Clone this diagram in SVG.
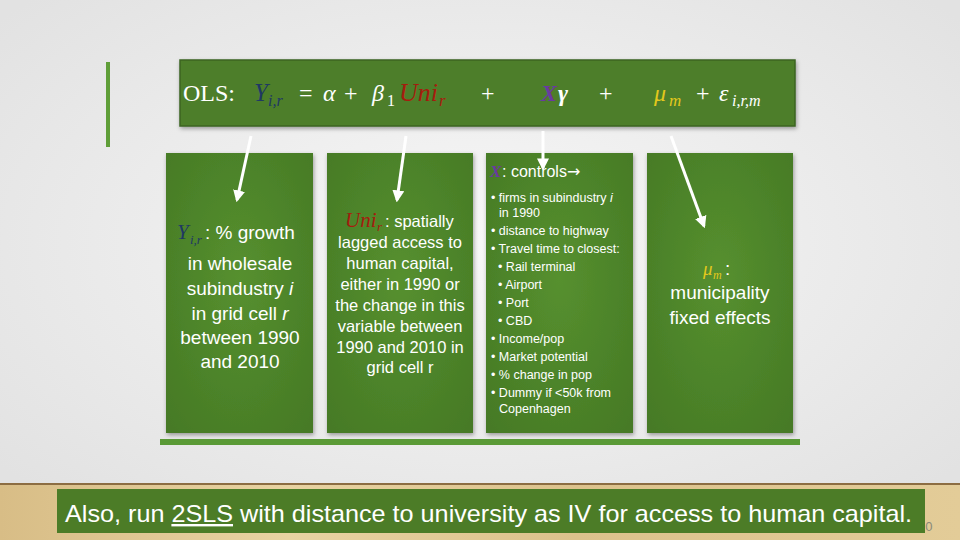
<svg xmlns="http://www.w3.org/2000/svg" width="960" height="540" viewBox="0 0 960 540">
<defs>
<radialGradient id="bg" cx="50%" cy="45%" r="65%">
<stop offset="0" stop-color="#f7f7f7"/>
<stop offset="1" stop-color="#e2e2e2"/>
</radialGradient>
<linearGradient id="wood" x1="0" y1="0" x2="1" y2="0">
<stop offset="0" stop-color="#d8bd86"/>
<stop offset="0.3" stop-color="#e8d3a2"/>
<stop offset="0.6" stop-color="#dcc28c"/>
<stop offset="1" stop-color="#e3cc98"/>
</linearGradient>
<radialGradient id="pan" cx="50%" cy="45%" r="70%">
<stop offset="0" stop-color="#56902f"/>
<stop offset="1" stop-color="#467a25"/>
</radialGradient>
<filter id="sh" x="-10%" y="-10%" width="125%" height="125%">
<feDropShadow dx="1" dy="2" stdDeviation="2" flood-color="#000" flood-opacity="0.35"/>
</filter>
<marker id="ah" viewBox="0 0 10 10" refX="8" refY="5" markerWidth="4" markerHeight="4" orient="auto" markerUnits="strokeWidth">
<path d="M0,0 L10,5 L0,10 z" fill="#ffffff"/>
</marker>
<style>
.panel{fill:url(#pan);filter:url(#sh);}
.t{font-family:"Liberation Sans","DejaVu Sans",sans-serif;fill:#ffffff;}
.s{font-family:"Liberation Serif","DejaVu Serif",serif;fill:#ffffff;}
.it{font-style:italic;}
.arr{stroke:#ffffff;stroke-width:3;fill:none;marker-end:url(#ah);}
</style>
</defs>
<rect x="0" y="0" width="960" height="540" fill="url(#bg)"/>
<rect x="0" y="484" width="960" height="56" fill="url(#wood)"/>
<rect x="0" y="483" width="960" height="2" fill="#8c6d42"/>
<rect x="106" y="62" width="4" height="85" fill="#5f9e38"/>

<g id="equation">
<rect x="180" y="60" width="615" height="66" fill="#4d7e2b" stroke="#3b6420" stroke-width="1.5" filter="url(#sh)"/>
<text class="s" x="183" y="101" font-size="24">OLS:</text>
<text class="s it" x="254" y="101" font-size="25" style="fill:#1f3864">Y</text>
<text class="s it" x="268" y="106" font-size="16" style="fill:#1f3864">i,r</text>
<text class="s" x="299" y="101" font-size="24">=</text>
<text class="s it" x="323" y="101" font-size="24">α</text>
<text class="s" x="344" y="101" font-size="24">+</text>
<text class="s it" x="372" y="101" font-size="24">β</text>
<text class="s" x="387" y="106" font-size="16">1</text>
<text class="s it" x="399" y="101" font-size="26" style="fill:#a51c0e">Uni</text>
<text class="s it" x="439" y="106" font-size="17" style="fill:#a51c0e">r</text>
<text class="s" x="481" y="101" font-size="24">+</text>
<text class="s it" x="541" y="101" font-size="24" font-weight="bold" style="fill:#6a3aa0">X</text>
<text class="s it" x="558" y="101" font-size="24" font-weight="bold">γ</text>
<text class="s" x="599" y="101" font-size="24">+</text>
<text class="s it" x="654" y="101" font-size="24" style="fill:#e3c81c">μ</text>
<text class="s it" x="669" y="106" font-size="17" style="fill:#e3c81c">m</text>
<text class="s" x="696" y="101" font-size="24">+</text>
<text class="s it" x="719" y="101" font-size="24">ε</text>
<text class="s it" x="732" y="106" font-size="16">i,r,m</text>
</g>

<g id="panel-y">
<rect class="panel" x="166" y="153" width="147" height="280"/>
<text class="s it" x="177" y="239" font-size="21" style="fill:#1f3864">Y</text>
<text class="s it" x="190" y="244" font-size="13" style="fill:#1f3864">i,r</text>
<text class="t" x="205" y="239" font-size="19">: % growth</text>
<text class="t" x="240" y="270" font-size="19" text-anchor="middle">in wholesale</text>
<text class="t" x="240" y="295" font-size="19" text-anchor="middle">subindustry <tspan font-style="italic">i</tspan></text>
<text class="t" x="240" y="320" font-size="19" text-anchor="middle">in grid cell <tspan font-style="italic">r</tspan></text>
<text class="t" x="240" y="344" font-size="19" text-anchor="middle">between 1990</text>
<text class="t" x="240" y="368" font-size="19" text-anchor="middle">and 2010</text>
</g>

<g id="panel-uni">
<rect class="panel" x="327" y="153" width="146" height="280"/>
<text class="s it" x="345" y="227" font-size="21" style="fill:#a51c0e">Uni</text>
<text class="s it" x="377" y="231" font-size="13" style="fill:#a51c0e">r</text>
<text class="t" x="385" y="227" font-size="16.5">: spatially</text>
<text class="t" x="400" y="248" font-size="16.5" text-anchor="middle">lagged access to</text>
<text class="t" x="400" y="269" font-size="16.5" text-anchor="middle">human capital,</text>
<text class="t" x="400" y="290" font-size="16.5" text-anchor="middle">either in 1990 or</text>
<text class="t" x="400" y="311" font-size="16.5" text-anchor="middle">the change in this</text>
<text class="t" x="400" y="332" font-size="16.5" text-anchor="middle">variable between</text>
<text class="t" x="400" y="353" font-size="16.5" text-anchor="middle">1990 and 2010 in</text>
<text class="t" x="400" y="373" font-size="16.5" text-anchor="middle">grid cell r</text>
</g>

<g id="panel-x">
<rect class="panel" x="486" y="153" width="147" height="280"/>
<text class="s it" x="490" y="177" font-size="17" font-weight="bold" style="fill:#6a3aa0">X</text>
<text class="t" x="502" y="177" font-size="16">: controls<tspan font-family="DejaVu Sans, sans-serif">→</tspan></text>
<text class="t" x="491" y="202" font-size="12.5">• firms in subindustry <tspan font-style="italic">i</tspan></text>
<text class="t" x="499" y="217" font-size="12.5">in 1990</text>
<text class="t" x="491" y="235" font-size="12.5">• distance to highway</text>
<text class="t" x="491" y="253" font-size="12.5">• Travel time to closest:</text>
<text class="t" x="498" y="271" font-size="12.5">• Rail terminal</text>
<text class="t" x="498" y="289" font-size="12.5">• Airport</text>
<text class="t" x="498" y="307" font-size="12.5">• Port</text>
<text class="t" x="498" y="325" font-size="12.5">• CBD</text>
<text class="t" x="491" y="343" font-size="12.5">• Income/pop</text>
<text class="t" x="491" y="361" font-size="12.5">• Market potential</text>
<text class="t" x="491" y="379" font-size="12.5">• % change in pop</text>
<text class="t" x="491" y="397" font-size="12.5">• Dummy if &lt;50k from</text>
<text class="t" x="499" y="413" font-size="12.5">Copenhagen</text>
</g>

<g id="panel-mu">
<rect class="panel" x="647" y="153" width="146" height="280"/>
<text class="s it" x="703" y="275" font-size="19" style="fill:#e3c81c">μ</text>
<text class="s it" x="713" y="279" font-size="12" style="fill:#e3c81c">m</text>
<text class="t" x="725" y="275" font-size="19">:</text>
<text class="t" x="720" y="299" font-size="19" text-anchor="middle">municipality</text>
<text class="t" x="720" y="324" font-size="19" text-anchor="middle">fixed effects</text>
</g>

<rect x="160" y="439" width="640" height="6" fill="#5a9a36"/>

<g id="connectors">
<line class="arr" x1="251" y1="136" x2="237" y2="200"/>
<line class="arr" x1="406" y1="136" x2="397" y2="200"/>
<line class="arr" x1="543" y1="131" x2="543" y2="168"/>
<line class="arr" x1="671" y1="136" x2="704" y2="226"/>
</g>

<text x="918" y="531" font-family="Liberation Sans, sans-serif" font-size="13" fill="#8a8a7a">10</text>
<g id="footer">
<rect x="57" y="489" width="868" height="44" fill="#4c7c27"/>
<text class="t" x="65" y="522" font-size="24" textLength="847" lengthAdjust="spacingAndGlyphs">Also, run <tspan style="text-decoration:underline">2SLS</tspan> with distance to university as IV for access to human capital.</text>
</g>
</svg>
